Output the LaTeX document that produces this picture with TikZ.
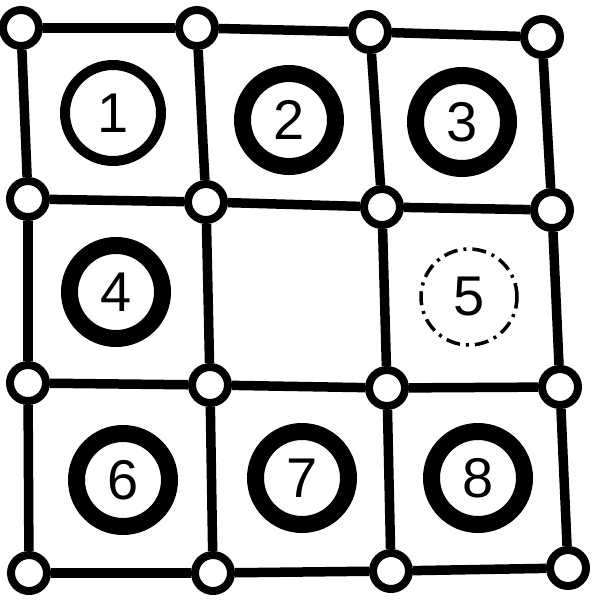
\documentclass[tikz,border=0pt]{standalone}
\usepackage{fontspec}
\setsansfont{Liberation Sans}
\begin{document}
\begin{tikzpicture}[x=1pt,y=-1pt,
  vtx/.style={circle,draw=black,line width=8pt,fill=white,minimum size=36pt,inner sep=0pt},
  edge/.style={line width=9.5pt,black},
  ring/.style={circle,draw=black,line width=17pt,minimum size=93pt,inner sep=0pt,font=\sffamily\fontsize{56}{56}\selectfont},
  thinring/.style={circle,draw=black,line width=10pt,minimum size=96pt,inner sep=0pt,font=\sffamily\fontsize{56}{56}\selectfont},
  faintring/.style={circle,draw=black,line width=3.5pt,dash pattern=on 14pt off 6pt on 3pt off 6pt,minimum size=96pt,inner sep=0pt,font=\sffamily\fontsize{56}{56}\selectfont}]
\useasboundingbox (0,0) rectangle (600,600);
% vertices
\node[vtx] (v00) at (21,28) {};
\node[vtx] (v10) at (197,28) {};
\node[vtx] (v20) at (370,32) {};
\node[vtx] (v30) at (542,37) {};
\node[vtx] (v01) at (28,199) {};
\node[vtx] (v11) at (206,202) {};
\node[vtx] (v21) at (382,207) {};
\node[vtx] (v31) at (552,210) {};
\node[vtx] (v02) at (28,383) {};
\node[vtx] (v12) at (210,385) {};
\node[vtx] (v22) at (387,388) {};
\node[vtx] (v32) at (560,387) {};
\node[vtx] (v03) at (29,573) {};
\node[vtx] (v13) at (213,573) {};
\node[vtx] (v23) at (391,571) {};
\node[vtx] (v33) at (568,568) {};
% edges
\draw[edge] (v00) -- (v10); \draw[edge] (v10) -- (v20); \draw[edge] (v20) -- (v30);
\draw[edge] (v01) -- (v11); \draw[edge] (v11) -- (v21); \draw[edge] (v21) -- (v31);
\draw[edge] (v02) -- (v12); \draw[edge] (v12) -- (v22); \draw[edge] (v22) -- (v32);
\draw[edge] (v03) -- (v13); \draw[edge] (v13) -- (v23); \draw[edge] (v23) -- (v33);
\draw[edge] (v00) -- (v01); \draw[edge] (v01) -- (v02); \draw[edge] (v02) -- (v03);
\draw[edge] (v10) -- (v11); \draw[edge] (v11) -- (v12); \draw[edge] (v12) -- (v13);
\draw[edge] (v20) -- (v21); \draw[edge] (v21) -- (v22); \draw[edge] (v22) -- (v23);
\draw[edge] (v30) -- (v31); \draw[edge] (v31) -- (v32); \draw[edge] (v32) -- (v33);
% numbered circles
\node[thinring] (c1) at (113,113) {1};
\node[ring] (c2) at (289,120) {2};
\node[ring] (c3) at (462,122) {3};
\node[ring] (c4) at (116,292) {4};
\node[faintring] (c5) at (469,297) {5};
\node[ring] (c6) at (123,480) {6};
\node[ring] (c7) at (302,478) {7};
\node[ring] (c8) at (478,478) {8};
\end{tikzpicture}
\end{document}
